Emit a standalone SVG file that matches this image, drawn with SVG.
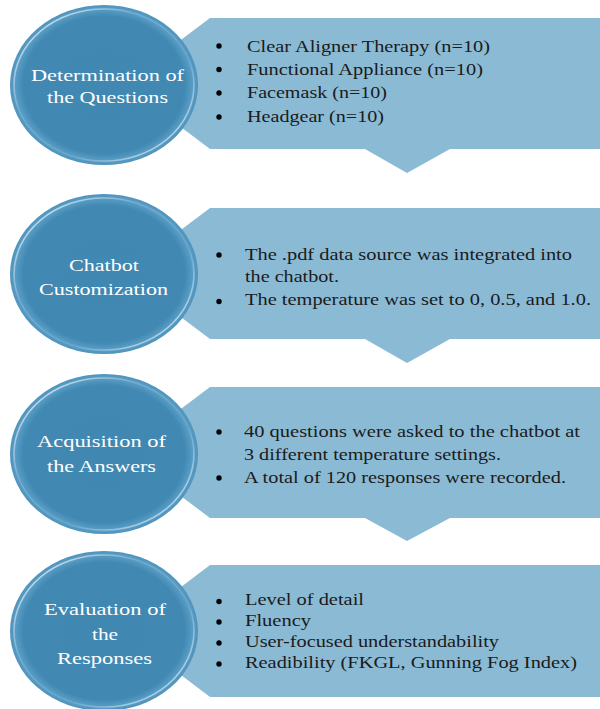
<svg xmlns="http://www.w3.org/2000/svg" width="600" height="709" viewBox="0 0 600 709">
<style>
.panel{fill:#8BBAD5;}
.circ{fill:url(#cg);}
.ring{fill:none;stroke:url(#hl);stroke-width:1.6;}
text{font-family:'Liberation Serif','DejaVu Serif',serif;font-size:17.5px;}
.ct{fill:#ffffff;}
.bt{fill:#1b1b1b;}
.dot{fill:#000000;}
</style>
<defs>
<radialGradient id="cg" cx="50%" cy="50%" r="50%">
<stop offset="0" stop-color="#4088B2"/>
<stop offset="0.86" stop-color="#4189B3"/>
<stop offset="0.95" stop-color="#5A9EC6"/>
<stop offset="1" stop-color="#4E93BC"/>
</radialGradient>
<linearGradient id="hl" x1="0" y1="0" x2="1" y2="1">
<stop offset="0" stop-color="#ffffff" stop-opacity="0.9"/>
<stop offset="0.35" stop-color="#ffffff" stop-opacity="0.15"/>
<stop offset="0.65" stop-color="#ffffff" stop-opacity="0.1"/>
<stop offset="1" stop-color="#ffffff" stop-opacity="0.85"/>
</linearGradient>
</defs>
<rect width="600" height="709" fill="#ffffff"/>
<g id="connectors"></g>

<g id="node1">
<polygon class="panel" points="123,83.5 210,18 600,18 600,149 450,149 407,173 365,149 210,149"/>
<ellipse class="circ" cx="104" cy="85" rx="94" ry="80"/>
<ellipse class="ring" cx="104" cy="85" rx="90" ry="76"/>
<text class="ct" x="31" y="81" textLength="153" lengthAdjust="spacingAndGlyphs">Determination of</text>
<text class="ct" x="47" y="103" textLength="121" lengthAdjust="spacingAndGlyphs">the Questions</text>
<circle class="dot" cx="219" cy="46" r="2.7"/>
<circle class="dot" cx="219" cy="69.5" r="2.7"/>
<circle class="dot" cx="219" cy="93" r="2.7"/>
<circle class="dot" cx="219" cy="117" r="2.7"/>
<text class="bt" x="247" y="52" textLength="243" lengthAdjust="spacingAndGlyphs">Clear Aligner Therapy (n=10)</text>
<text class="bt" x="247" y="75" textLength="236" lengthAdjust="spacingAndGlyphs">Functional Appliance (n=10)</text>
<text class="bt" x="247" y="98" textLength="140" lengthAdjust="spacingAndGlyphs">Facemask (n=10)</text>
<text class="bt" x="247" y="121.5" textLength="137" lengthAdjust="spacingAndGlyphs">Headgear (n=10)</text>
</g>

<g id="node2">
<polygon class="panel" points="123,273.5 210,208 600,208 600,339 450,339 407,363 365,339 210,339"/>
<ellipse class="circ" cx="104" cy="274" rx="94" ry="80"/>
<ellipse class="ring" cx="104" cy="274" rx="90" ry="76"/>
<text class="ct" x="69" y="271" textLength="70" lengthAdjust="spacingAndGlyphs">Chatbot</text>
<text class="ct" x="39" y="295" textLength="129" lengthAdjust="spacingAndGlyphs">Customization</text>
<circle class="dot" cx="219" cy="255" r="2.7"/>
<circle class="dot" cx="219" cy="301.5" r="2.7"/>
<text class="bt" x="245" y="260" textLength="327" lengthAdjust="spacingAndGlyphs">The .pdf data source was integrated into</text>
<text class="bt" x="245" y="282" textLength="94" lengthAdjust="spacingAndGlyphs">the chatbot.</text>
<text class="bt" x="245" y="305" textLength="346" lengthAdjust="spacingAndGlyphs">The temperature was set to 0, 0.5, and 1.0.</text>
</g>

<g id="node3">
<polygon class="panel" points="123,452.5 210,387 600,387 600,518 450,518 407,541 365,518 210,518"/>
<ellipse class="circ" cx="104" cy="454" rx="94" ry="80"/>
<ellipse class="ring" cx="104" cy="454" rx="90" ry="76"/>
<text class="ct" x="37" y="447" textLength="129" lengthAdjust="spacingAndGlyphs">Acquisition of</text>
<text class="ct" x="47" y="472" textLength="109" lengthAdjust="spacingAndGlyphs">the Answers</text>
<circle class="dot" cx="219" cy="432" r="2.7"/>
<circle class="dot" cx="219" cy="478" r="2.7"/>
<text class="bt" x="244" y="437" textLength="336" lengthAdjust="spacingAndGlyphs">40 questions were asked to the chatbot at</text>
<text class="bt" x="244" y="460" textLength="257" lengthAdjust="spacingAndGlyphs">3 different temperature settings.</text>
<text class="bt" x="244" y="483" textLength="322" lengthAdjust="spacingAndGlyphs">A total of 120 responses were recorded.</text>
</g>

<g id="node4">
<polygon class="panel" points="123,631 210,565 600,565 600,697 210,697"/>
<ellipse class="circ" cx="104" cy="631" rx="94" ry="80"/>
<ellipse class="ring" cx="104" cy="631" rx="90" ry="76"/>
<text class="ct" x="44" y="615" textLength="122" lengthAdjust="spacingAndGlyphs">Evaluation of</text>
<text class="ct" x="92" y="640" textLength="26" lengthAdjust="spacingAndGlyphs">the</text>
<text class="ct" x="57" y="664" textLength="95" lengthAdjust="spacingAndGlyphs">Responses</text>
<circle class="dot" cx="219" cy="601.5" r="2.7"/>
<circle class="dot" cx="219" cy="622" r="2.7"/>
<circle class="dot" cx="219" cy="643" r="2.7"/>
<circle class="dot" cx="219" cy="664" r="2.7"/>
<text class="bt" x="245" y="605" textLength="119" lengthAdjust="spacingAndGlyphs">Level of detail</text>
<text class="bt" x="245" y="626" textLength="66" lengthAdjust="spacingAndGlyphs">Fluency</text>
<text class="bt" x="245" y="647" textLength="254" lengthAdjust="spacingAndGlyphs">User-focused understandability</text>
<text class="bt" x="245" y="668" textLength="332" lengthAdjust="spacingAndGlyphs">Readibility (FKGL, Gunning Fog Index)</text>
</g>
</svg>
